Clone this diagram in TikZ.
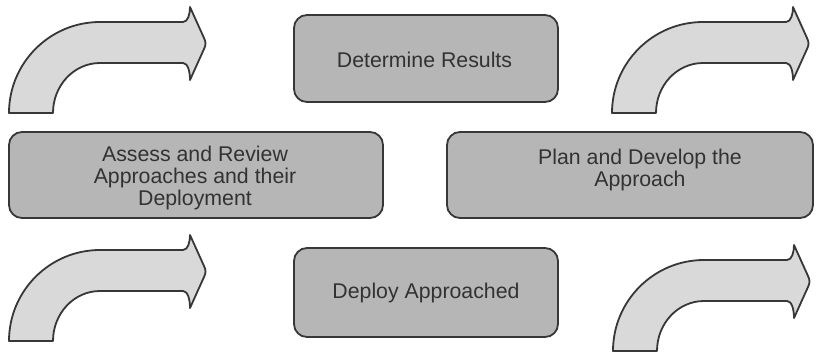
\documentclass[tikz,border=0pt]{standalone}
\usepackage{fontspec}
\setmainfont{Liberation Sans}
\definecolor{boxfill}{RGB}{182,182,182}
\definecolor{arrowfill}{RGB}{217,217,217}
\definecolor{edge}{RGB}{55,55,55}
\definecolor{ink}{RGB}{50,50,50}
\tikzset{
  stagebox/.style={draw=edge, line width=1.8pt, fill=boxfill, rounded corners=13pt, inner sep=0pt},
  stagetext/.style={text=ink, font=\fontsize{21.3}{22}\selectfont, align=center, inner sep=0pt},
  bentarrow/.pic={
    \draw[draw=edge, line width=1.8pt, fill=arrowfill, line join=round]
      (9,113) .. controls (9,62.8) and (49.8,22) .. (100,22)
      -- (183,22) .. controls (188,22) and (190,14) .. (190,7)
      -- (204,38) .. controls (206,42) and (206,45) .. (204,49)
      -- (190,80) .. controls (190,72) and (188,63) .. (183,63)
      -- (100,63) .. controls (74,63) and (53,85.4) .. (53,113)
      -- cycle;
  }
}
\begin{document}
\begin{tikzpicture}[x=1pt, y=-1pt]
  \useasboundingbox (0,0) rectangle (817,354);
  \fill[white] (0,0) rectangle (817,354);

  % curved arrows in the four corners
  \pic at (0,0) {bentarrow};
  \pic at (603,0) {bentarrow};
  \pic at (0,228) {bentarrow};
  \pic at (604,238) {bentarrow};

  % stage boxes
  \node[stagebox, minimum width=264pt, minimum height=87pt] (results) at (426,58.5) {};
  \node[stagebox, minimum width=374pt, minimum height=86pt] (assess) at (196,175) {};
  \node[stagebox, minimum width=366pt, minimum height=86pt] (plan) at (630,175) {};
  \node[stagebox, minimum width=264pt, minimum height=89pt] (deploy) at (426,292.5) {};

  % stage labels
  \node[stagetext] (resultsT) at (424.5,60) {Determine Results};
  \node[stagetext] (assessT) at (195,177.5) {Assess and Review\\Approaches and their\\Deployment};
  \node[stagetext] (planT) at (640,170) {Plan and Develop the\\Approach};
  \node[stagetext] (deployT) at (426,293) {Deploy Approached};
\end{tikzpicture}
\end{document}
